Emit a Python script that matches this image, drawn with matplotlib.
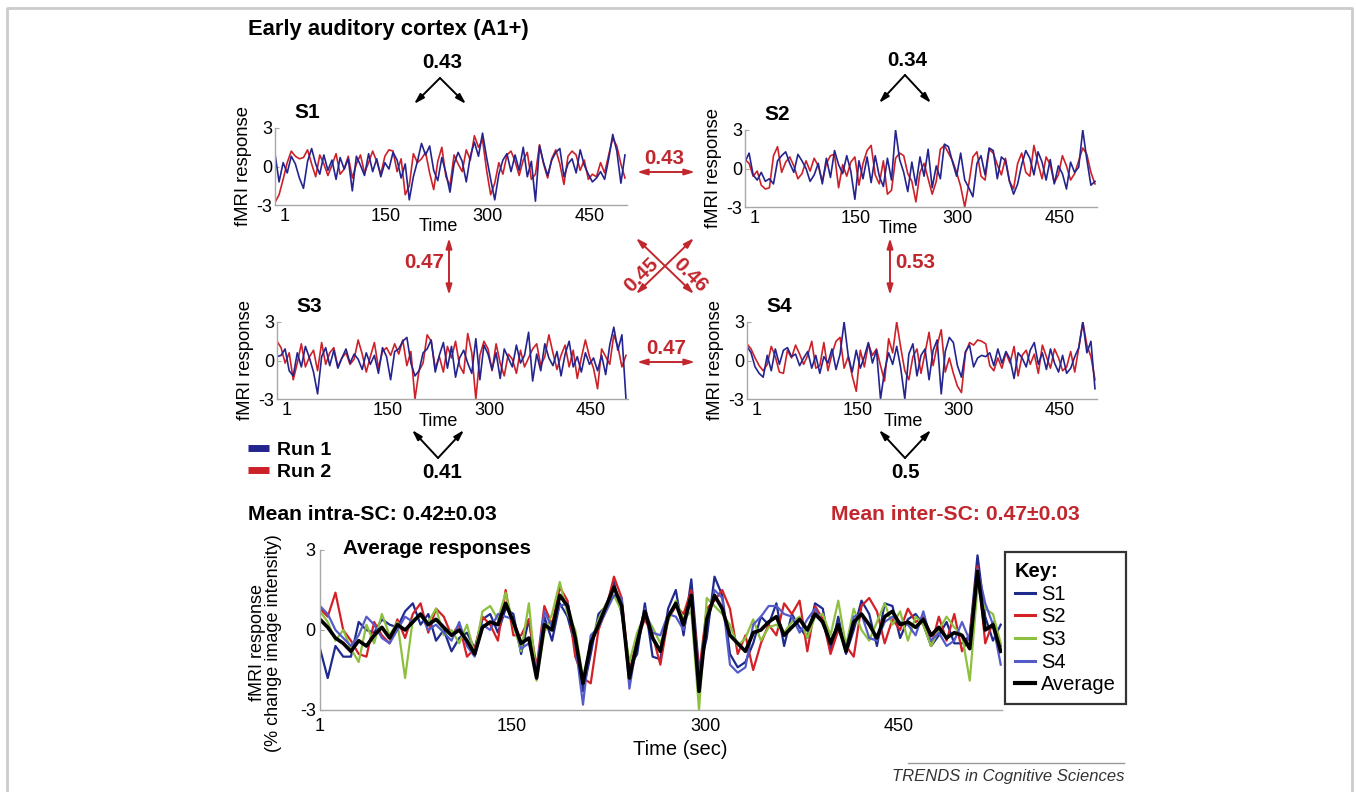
import matplotlib.pyplot as plt
import matplotlib.transforms as mtransforms
import numpy as np

plt.rcParams['font.family'] = ['Liberation Sans', 'DejaVu Sans']

W, H = 1356, 792

RUN1_COLOR = '#24248f'
RUN2_COLOR = '#cc2128'
CORR_RED = '#c1272d'
SPINE_GRAY = '#a8a8a8'
SUBJ_COLORS = ['#1f2a8e', '#d42027', '#8dc03f', '#555cc8']

# time points (scans) of single runs and of the averaged responses
time_run = np.arange(1, 521, 6)
time_avg = np.arange(1, 531, 6)

s1_run1 = [1.0, -1.2, 0.3, -0.5, 0.8, 0.2, -0.9, -1.7, 0.4, 1.4,
           0.2, -0.6, 0.9, -0.3, 0.5, -1.0, 0.7, -0.2, 0.6, -1.9,
           0.8, 0.1, -0.7, 1.0, -0.4, 0.6, -0.8, 0.3, -0.2, 1.1,
           0.5, -0.9, 0.2, -2.6, -0.8, 0.4, 1.8, 0.9, 1.6, -0.3,
           -1.1, 0.7, -0.5, -2.0, 0.2, 1.1, 0.4, -1.2, 0.8, 1.9,
           0.8, 2.6, 0.7, -1.0, -2.6, -0.6, 0.5, 1.0, -0.4, 0.9,
           -0.3, 1.5, -0.8, 0.4, -2.7, 1.6, 0.3, -0.7, 0.5, 1.1,
           1.4, -0.8, 0.2, 0.6, -0.5, 1.3, 0.1, -0.6, -1.2, -0.9,
           -0.4, -1.0, 0.6, 2.5, 1.2, -1.3, 0.9]
s1_run2 = [-2.8, -2.2, -1.0, 0.3, 1.2, 0.8, 0.6, 0.7, 1.3, 0.2,
           -0.8, 0.9, 0.2, -0.7, 0.1, 1.0, -0.6, -0.2, 0.8, -0.9,
           0.2, 0.9, -0.5, 0.3, 1.2, 0.4, -0.6, 0.8, 1.3, 1.2,
           -0.4, 0.6, -2.2, -1.5, 1.0, 0.3, 0.6, 1.1, -0.5, -1.8,
           0.4, 1.5, -0.8, -1.5, 0.9, 0.2, -0.4, 1.3, 0.5, 2.4,
           1.5, 2.1, -0.3, -2.2, -1.3, 0.3, -0.6, 0.9, 1.2, 0.4,
           -0.7, 0.5, 1.1, -1.0, -0.6, 1.7, 0.2, -0.9, 0.6, 1.3,
           0.2, -1.4, 0.8, 1.2, 0.9, -0.3, 0.5, -1.0, -0.6, -0.8,
           0.3, -0.5, 0.9, 2.2, 1.6, 0.2, -0.9]

s2_run1 = [0.5, 1.2, -0.5, -0.9, -0.3, -1.0, -0.8, -1.2, 0.6, 1.0,
           1.3, 0.4, -0.3, 1.1, 0.6, 0.0, -1.0, -0.5, 0.4, -1.2,
           0.8, -0.7, 1.4, 0.3, -0.4, 1.0, -0.2, -2.4, 0.6, -0.8,
           0.9, -1.1, 1.0, -0.6, -1.4, 0.8, -0.9, 3.0, 0.7, -0.3,
           -1.8, 0.5, -1.3, 0.9, -0.6, 1.5, -1.5, 0.2, -0.8, 1.9,
           1.7, 0.5, -0.6, 1.2, -0.9, -1.5, -2.2, 0.4, 1.0, -0.5,
           1.6, 1.4, -0.8, 0.9, 0.6, -1.0, -2.0, -1.2, 0.3, 1.4,
           0.8, -0.5, 1.3, 0.5, -0.9, 0.7, -1.2, 0.2, -0.4, -1.6,
           0.5, -0.3, 0.1, 3.0, 0.7, -1.3, -1.0]
s2_run2 = [0.7, 0.4, -0.6, -0.2, -1.3, -1.6, -1.5, 1.0, 1.7, -0.3,
           0.5, 0.9, 0.2, -0.8, -0.4, 0.6, -0.2, 0.8, 0.2, -1.0,
           0.4, 1.0, 1.1, -1.5, 0.3, -0.6, 0.5, 0.9, -1.3, 0.4,
           1.4, 1.8, -0.5, -1.2, 0.6, -2.0, -1.7, 0.8, 1.2, 1.0,
           -0.4, -1.0, -2.6, -0.3, 0.4, -0.8, -2.0, -1.0, 1.5, 1.8,
           1.2, 0.6, -0.3, -1.4, -3.0, -1.2, 0.9, 1.3, -0.6, -0.9,
           1.5, 1.2, 0.3, -0.5, 0.8, -1.0, -1.6, 0.4, 1.2, -0.3,
           -0.6, 1.8, 0.4, -0.8, 0.9, 0.3, -1.1, -0.5, 1.0, 0.2,
           -0.9, -0.4, 0.6, 1.6, 1.1, -0.3, -1.2]

s3_run1 = [0.3, 0.4, 0.9, -0.8, -1.2, 0.6, -0.5, 1.1, 0.2, -0.9,
           -2.6, 0.3, 1.0, -0.4, 0.8, -0.6, 0.2, 0.9, -0.2, 0.5,
           0.1, -0.7, 0.6, -0.3, 0.4, -1.0, 1.0, 0.3, -1.5, 0.7,
           0.9, 1.5, 1.8, -0.2, -1.2, -0.8, 0.6, 0.9, 1.6, -0.9,
           0.4, 1.4, -0.6, 1.1, -1.3, 0.2, 0.8, -0.2, -1.0, 1.7,
           -1.5, 1.2, 0.5, -0.7, 0.6, -1.4, 0.9, 0.2, -0.5, 1.2,
           -0.2, 0.4, 2.2, -1.6, 0.5, -0.8, 1.3, 0.2, -0.4, 0.7,
           -1.2, 0.5, 1.5, -0.5, 0.3, -0.9, 0.6, -0.3, 0.2, -0.8,
           0.4, -1.1, 1.2, 2.6, 0.8, 2.0, -3.0]
s3_run2 = [1.5, 1.0, -0.2, 0.6, -1.5, -0.2, 1.3, -0.5, 0.3, 0.8,
           -0.8, 1.4, -0.3, 0.6, 1.0, -0.5, 0.2, 0.6, -0.3, 0.1,
           1.6, 0.5, -0.9, 0.3, 1.4, -0.6, 0.7, 1.0, 0.4, 1.3,
           0.5, 1.6, -0.4, 0.7, -3.0, -0.8, -0.2, 2.0, 1.5, -0.6,
           0.3, -0.9, 1.1, 0.2, 1.5, -0.4, -1.0, 2.1, 0.6, -3.0,
           0.4, 1.5, 0.9, -0.8, 1.3, -0.2, -1.2, 0.5, 0.1, -1.0,
           0.8, -0.5, 0.2, 0.9, 1.3, -0.4, 0.3, 2.0, 0.6, -0.7,
           0.4, 1.2, -0.5, 0.8, -1.4, 0.2, 1.6, 0.3, -0.6, -2.2,
           0.9, 0.3, -0.3, 2.0, 1.1, -0.5, 0.4]

s4_run1 = [1.1, 0.6, -0.5, -1.0, -1.3, 0.4, -0.8, 0.9, -0.3, 0.8,
           1.0, 0.3, 0.5, -0.4, 0.2, 0.7, -0.6, 0.4, -1.0, 0.3,
           -0.2, 0.9, -0.7, 0.5, 3.0, 0.4, -0.9, 0.8, -0.6, 0.3,
           1.4, -0.2, 0.8, -3.0, -0.8, 0.6, -0.3, 1.1, -0.6, -3.0,
           0.5, 1.3, -1.2, 0.4, 0.9, -1.5, 0.8, 1.6, -2.6, 0.7,
           1.8, 1.4, -0.4, -1.3, 0.7, 1.2, -0.5, 0.2, 0.4, 0.3,
           0.6, -0.4, 0.9, -0.2, 0.7, 0.1, -1.4, 0.6, 0.2, -0.5,
           0.8, 1.4, -0.3, 0.6, -0.7, 0.9, -0.2, -0.9, 0.4, -1.0,
           -0.6, 0.3, 1.0, 3.0, 0.6, 1.5, -2.2]
s4_run2 = [1.3, 0.9, 0.2, -0.4, -0.8, -0.3, 1.1, 0.3, -0.9, -1.0,
           0.8, 0.2, 1.2, 0.5, -0.3, 0.4, 1.5, -0.6, -0.4, 1.4,
           -0.8, 0.5, 1.5, 1.8, -0.6, 0.3, -1.2, -2.4, 0.8, -0.5,
           1.3, 0.4, 0.9, -0.4, -1.6, 1.7, 0.6, 3.0, 1.0, -0.8,
           -1.5, 0.3, 0.9, -1.0, 0.6, 2.2, -0.4, 1.2, 2.4, -0.9,
           0.2, -1.0, -2.0, -2.5, 0.6, 1.4, 1.2, 1.6, 1.5, 1.3,
           -0.4, -0.8, 0.2, -0.6, 0.6, -0.2, 1.1, -1.2, 0.4, 0.8,
           -0.3, 0.5, -1.0, 1.2, 0.3, -0.6, 0.9, 0.2, -0.8, -0.5,
           0.7, -0.9, 1.0, 3.0, 1.2, 0.3, -1.5]

# averaged responses per subject and grand average
avg_s1 = [-0.7, -1.8, -0.6, -1.0, -1.0, 0.3, 0.0, -0.1, 0.4, 0.2,
          0.1, 0.7, 1.0, 0.2, 0.6, -0.4, 0.0, -0.8, -0.3, -0.1,
          -0.7, 0.4, 0.6, -0.1, 0.8, 0.6, -0.9, 0.4, -1.6, 0.5,
          -0.4, 1.0, 0.5, -0.6, -2.3, -0.9, 0.6, 0.9, 1.8, 0.6,
          -1.4, -0.9, 1.0, -1.0, -1.1, 0.8, 1.5, -0.2, 1.9, -1.5,
          -0.3, 2.0, 1.3, -0.9, -1.4, -1.2, -0.5, 0.5, 0.2, 1.0,
          -0.6, 0.6, 0.1, -0.3, 1.0, 0.8, -0.8, 0.5, -0.9, 0.0,
          1.1, 0.6, -0.6, 1.0, 0.9, -0.3, 0.4, 0.6, 0.2, -0.6,
          -0.2, 0.3, -0.5, -0.5, -0.2, 2.8, 0.5, -0.4, 0.2]
avg_s2 = [0.8, 0.5, 1.4, 0.0, -0.4, -0.9, -1.0, 0.3, -0.2, -0.5,
          0.4, -0.3, 0.6, 1.0, -0.1, 0.8, 0.5, -0.2, 0.2, -1.0,
          -0.7, 0.5, 0.2, -0.4, 1.5, -0.2, -0.2, 0.4, -1.4, 0.9,
          0.2, 1.6, 1.1, -1.0, -1.8, -2.0, 0.0, 0.8, 2.0, 1.2,
          -1.6, -0.3, 0.4, -0.2, -1.3, 0.4, 0.9, 0.6, 1.5, -1.6,
          0.8, 1.1, 1.5, 0.8, -0.9, -0.2, -1.5, -0.5, 0.2, -0.2,
          1.0, 0.6, 1.1, -0.8, 0.9, 0.4, -0.9, 0.0, -0.6, -1.0,
          0.9, 1.2, 0.7, -0.5, 0.4, 0.0, 0.8, 0.3, 0.5, -0.6,
          0.5, -0.4, 0.6, -0.8, -0.2, 2.4, -0.5, 0.3, -0.6]
avg_s3 = [0.7, 0.3, -0.4, 0.0, -0.7, -1.2, 0.2, -0.5, 0.6, -0.2,
          0.3, -1.8, 0.4, 0.5, 0.3, 0.8, -0.2, 0.0, -0.5, 0.2,
          -0.9, 0.7, 0.9, 0.4, 1.4, 0.2, -0.8, 1.0, -1.9, -0.1,
          0.6, 1.8, 0.6, 0.0, -1.8, -0.5, 0.4, 1.0, 1.3, 0.7,
          -1.2, -0.1, 0.6, 0.1, -0.5, 0.3, 1.1, 0.4, 0.7, -3.0,
          1.2, 0.9, 0.6, 0.2, -0.6, -0.3, 0.4, -0.4, 0.1, 0.2,
          -0.1, 0.3, 0.5, -0.3, 0.5, 0.6, -0.2, 1.1, -0.6, 0.8,
          0.0, -0.4, 0.3, 1.0, 0.2, 0.7, -0.4, 0.5, 0.2, -0.6,
          0.0, 0.5, 0.1, -0.2, -1.9, 1.6, 0.8, 0.6, -0.5]
avg_s4 = [0.9, 0.6, 0.0, -0.3, -0.6, -0.2, 0.5, 0.2, -0.3, -0.5,
          0.0, 0.5, 0.3, 0.6, 0.0, 0.2, -0.1, -0.4, 0.3, -0.6,
          -1.0, 0.2, 0.0, 0.6, 0.5, 0.4, -0.7, -0.5, -1.5, 0.7,
          0.1, 0.9, 1.0, -0.5, -2.8, -0.2, 0.1, 0.7, 1.3, 1.2,
          -2.2, -0.4, 0.8, -0.1, -0.2, 0.6, 0.5, 0.0, 1.2, -1.8,
          0.3, 1.5, 1.2, -1.3, -1.6, -1.4, 0.2, 0.5, 0.9, 0.9,
          0.6, 0.5, -0.1, 0.4, 0.8, 0.2, -0.4, 0.2, -0.8, 0.5,
          0.6, -0.3, -0.4, 0.3, 0.5, 0.3, 0.2, -0.2, 0.7, -0.4,
          -0.1, -0.6, -0.4, 0.3, -0.4, 2.3, 1.0, 0.2, -1.3]
avg_all = [0.4, 0.1, -0.3, -0.5, -0.8, -0.4, -0.6, -0.2, 0.1, -0.3,
           0.2, 0.0, 0.3, 0.6, 0.2, 0.4, 0.1, -0.2, 0.0, -0.4,
           -0.9, 0.1, 0.3, 0.2, 1.0, 0.3, -0.5, -0.3, -1.8, 0.2,
           0.0, 1.3, 0.9, -0.3, -2.0, -0.5, 0.2, 0.9, 1.6, 0.9,
           -1.8, -0.5, 0.7, -0.3, -0.8, 0.5, 1.0, 0.2, 1.3, -2.3,
           0.4, 1.3, 0.8, -0.2, -0.5, -0.8, -0.1, 0.0, 0.3, 0.5,
           -0.2, 0.1, 0.4, 0.0, 0.6, 0.3, -0.5, 0.2, -0.8, 0.3,
           0.6, 0.2, -0.3, 0.5, 0.7, 0.2, 0.3, 0.1, 0.4, -0.2,
           0.1, -0.3, -0.1, -0.2, -0.7, 2.2, 0.0, 0.2, -0.8]

subject_labels = ['S1', 'S2', 'S3', 'S4']
run_labels = ['Run 1', 'Run 2']
time_ticks = [1, 150, 300, 450]

intra_sc = ['0.43', '0.34', '0.41', '0.5']
inter_sc = {'s1_s2': '0.43', 's3_s4': '0.47', 's1_s3': '0.47',
            's2_s4': '0.53', 's1_s4': '0.45', 's2_s3': '0.46'}


def px_rect(x0, y0, x1, y1):
  return [x0 / W, 1 - y1 / H, (x1 - x0) / W, (y1 - y0) / H]


def style_axes(ax, xpad, ypad, size):
  for side in ('top', 'right'):
    ax.spines[side].set_visible(False)
  for side in ('left', 'bottom'):
    ax.spines[side].set_color(SPINE_GRAY)
    ax.spines[side].set_linewidth(1.0)
  ax.set_yticks([-3, 0, 3])
  ax.set_yticklabels(['-3', '0', '3'])
  ax.set_xticks(time_ticks)
  ax.set_xticklabels([str(t) for t in time_ticks])
  ax.tick_params(axis='x', length=0, pad=xpad, labelsize=size)
  ax.tick_params(axis='y', length=3, direction='in', color=SPINE_GRAY,
                 pad=ypad, labelsize=size)


def draw_subject(fig, rect, run1, run2, name, time_x, time_y):
  ax = fig.add_axes(px_rect(*rect))
  ax.plot(time_run, run2, color=RUN2_COLOR, lw=1.2)
  ax.plot(time_run, run1, color=RUN1_COLOR, lw=1.2)
  ax.set_xlim(1, 520)
  ax.set_ylim(-3, 3)
  style_axes(ax, 2, 2, 13)
  # the original tick labels sit a little right of their ticks
  shift = mtransforms.ScaledTranslation(10 / 100, 0, fig.dpi_scale_trans)
  for label in ax.get_xticklabels():
    label.set_transform(label.get_transform() + shift)
  width = rect[2] - rect[0]
  height = rect[3] - rect[1]
  ax.set_ylabel('fMRI response', fontsize=13.3)
  ax.yaxis.set_label_coords(-23 / width, 0.5)
  ax.set_xlabel('Time', fontsize=13)
  ax.xaxis.set_label_coords(time_x, -time_y / height)
  ax.text(32 / width, 1 + 6 / height, name, transform=ax.transAxes,
          fontsize=15, fontweight='bold', ha='center', va='bottom')
  return ax


def arrow(ov, start, end, color, style):
  ov.annotate('', xy=end, xytext=start,
              arrowprops=dict(arrowstyle=style, color=color, lw=1.4,
                              shrinkA=0, shrinkB=0))


def main():
  fig = plt.figure(figsize=(W / 100, H / 100), dpi=100)
  fig.patch.set_facecolor('white')

  ax1 = draw_subject(fig, (275, 128, 627, 205), s1_run1, s1_run2, 'S1', 0.463, 13)
  draw_subject(fig, (745, 130, 1097, 207), s2_run1, s2_run2, 'S2', 0.435, 13)
  draw_subject(fig, (277, 322, 628, 399), s3_run1, s3_run2, 'S3', 0.46, 14)
  draw_subject(fig, (747, 322, 1097, 399), s4_run1, s4_run2, 'S4', 0.446, 14)

  # run legend
  leg = fig.legend(ax1.get_lines()[::-1], run_labels, loc='center left',
                   bbox_to_anchor=(230 / W, 1 - 461 / H), frameon=False,
                   handlelength=1.1, handletextpad=0.4, labelspacing=0.25,
                   prop={'weight': 'bold', 'size': 14})
  for line in leg.get_lines():
    line.set_linewidth(5)
    line.set_solid_capstyle('butt')

  # average responses
  axb = fig.add_axes(px_rect(320, 550, 1002, 710))
  for series, color, label in zip([avg_s1, avg_s2, avg_s3, avg_s4],
                                  SUBJ_COLORS, subject_labels):
    axb.plot(time_avg, series, color=color, lw=1.6, label=label)
  axb.plot(time_avg, avg_all, color='black', lw=2.6, label='Average')
  axb.set_xlim(1, 530)
  axb.set_ylim(-3, 3)
  style_axes(axb, 6, 3, 13)
  axb.set_ylabel('fMRI response\n(% change image intensity)', fontsize=13,
                 linespacing=0.95)
  axb.yaxis.set_label_coords(-38 / 682, 0.42)
  axb.set_xlabel('Time (sec)', fontsize=14.5)
  axb.xaxis.set_label_coords((680 - 320) / 682, -30 / 160)
  axb.text(23 / 682, 1.01, 'Average responses', transform=axb.transAxes,
           fontsize=14.8, fontweight='bold', ha='left', va='center')
  key = axb.legend(title='Key:', loc='upper left',
                   bbox_to_anchor=(1005 / W, 1 - 552 / H),
                   bbox_transform=fig.transFigure, fancybox=False,
                   edgecolor='black', fontsize=14.5, alignment='left',
                   title_fontproperties={'weight': 'bold', 'size': 14.5},
                   handlelength=1.0, handletextpad=0.3, labelspacing=0.18,
                   borderpad=0.5, borderaxespad=0)
  key.get_frame().set_linewidth(1.6)
  for line in key.get_lines():
    line.set_linewidth(2.2 if line.get_color() != 'black' else 3)

  # overlay for annotations
  ov = fig.add_axes([0, 0, 1, 1])
  ov.set_xlim(0, W)
  ov.set_ylim(H, 0)
  ov.set_axis_off()

  ov.text(248, 30, 'Early auditory cortex (A1+)', fontsize=15.8,
          fontweight='bold', ha='left', va='center')

  head = '-|>,head_length=0.6,head_width=0.18'
  both = '<|-|>,head_length=0.6,head_width=0.18'

  # intra-subject correlations (black)
  for (cx, ty), (ax_, ay), dy, txt in zip(
      [(442, 62), (907, 60), (442, 473), (905, 472)],
      [(440, 78), (905, 75), (438, 458), (905, 458)],
      [26, 28, -28, -28], intra_sc):
    ov.text(cx, ty, txt, fontsize=14.8, fontweight='bold', ha='center', va='center')
    arrow(ov, (ax_, ay), (ax_ - 26, ay + dy), 'black', head)
    arrow(ov, (ax_, ay), (ax_ + 26, ay + dy), 'black', head)

  # inter-subject correlations (red)
  red_text = dict(color=CORR_RED, fontsize=14.8, fontweight='bold',
                  ha='center', va='center')
  arrow(ov, (637, 172), (695, 172), CORR_RED, both)
  ov.text(664, 158, inter_sc['s1_s2'], **red_text)
  arrow(ov, (637, 362), (695, 362), CORR_RED, both)
  ov.text(666, 348, inter_sc['s3_s4'], **red_text)
  arrow(ov, (449, 238), (449, 295), CORR_RED, both)
  ov.text(424, 263, inter_sc['s1_s3'], **red_text)
  arrow(ov, (890, 238), (890, 295), CORR_RED, both)
  ov.text(915, 263, inter_sc['s2_s4'], **red_text)
  arrow(ov, (636, 238), (694, 294), CORR_RED, both)
  arrow(ov, (694, 238), (636, 294), CORR_RED, both)
  ov.text(641, 275, inter_sc['s1_s4'], rotation=45, **red_text)
  ov.text(690, 275, inter_sc['s2_s3'], rotation=-45, **red_text)

  ov.text(248, 515, 'Mean intra-SC: 0.42\u00b10.03', fontsize=15.2,
          fontweight='bold', ha='left', va='center')
  ov.text(1080, 515, 'Mean inter-SC: 0.47\u00b10.03', fontsize=15.2,
          fontweight='bold', ha='right', va='center', color=CORR_RED)

  ov.plot([908, 1124], [763, 763], color='#999999', lw=1)
  ov.text(1124, 776, 'TRENDS in Cognitive Sciences', fontsize=12,
          style='italic', ha='right', va='center', color='#333333')

  # frame around the figure
  ov.plot([7, 7, 1352, 1352], [H, 8, 8, H], color='#cccccc', lw=2)

  fig.savefig('out.png', dpi=100, facecolor='white')


if __name__ == '__main__':
  main()
